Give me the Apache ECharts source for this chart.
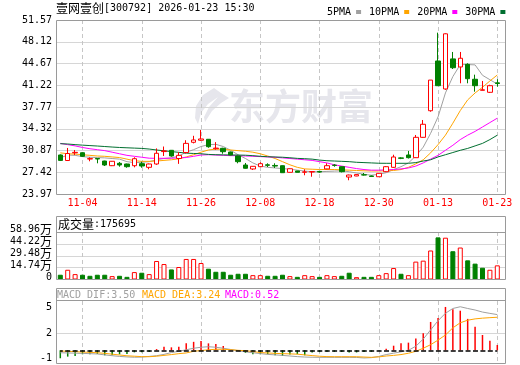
<!DOCTYPE html>
<html><head><meta charset="utf-8">
<script src="https://cdn.jsdelivr.net/npm/echarts@6/dist/echarts.min.js"></script>
<style>html,body{margin:0;padding:0;background:#fff}#c{width:520px;height:365px}</style>
</head><body><div id="c"></div>
<script>
const dates = ['10-30','10-31','11-03','11-04','11-05','11-06','11-07','11-10','11-11','11-12','11-13','11-14','11-17','11-18','11-19','11-20','11-21','11-24','11-25','11-26','11-27','11-28','12-01','12-02','12-03','12-04','12-05','12-08','12-09','12-10','12-11','12-12','12-15','12-16','12-17','12-18','12-19','12-22','12-23','12-24','12-25','12-26','12-29','12-30','12-31','01-05','01-06','01-07','01-08','01-09','01-12','01-13','01-14','01-15','01-16','01-19','01-20','01-21','01-22','01-23'];
const openP  = [30.16,29.28,30.50,30.52,29.52,29.60,29.20,28.46,28.84,28.73,28.46,28.78,28.20,28.73,30.70,30.90,29.60,30.55,32.17,32.50,32.65,31.15,31.22,30.63,30.00,28.57,27.94,28.30,28.60,28.50,28.46,27.41,27.62,27.42,27.46,27.55,27.95,28.55,28.30,26.66,26.83,27.02,26.83,26.71,27.51,28.20,29.70,30.16,29.73,32.96,37.18,45.07,40.63,45.40,44.12,44.54,42.17,40.42,40.10,41.60];
const closeP = [29.30,30.39,30.58,29.95,29.58,29.52,28.57,29.16,28.57,28.30,29.57,28.41,28.73,30.43,30.80,30.00,30.10,32.00,32.54,32.70,31.47,31.25,30.68,30.16,29.10,28.05,28.36,28.78,28.52,28.40,27.35,27.98,27.41,27.48,27.52,27.45,28.46,28.50,27.51,26.98,27.05,26.98,26.75,27.25,28.30,29.84,29.63,29.73,32.96,35.03,42.04,41.15,49.38,44.00,45.50,42.26,41.15,40.50,41.15,41.50];
const lowP   = [29.20,29.20,30.16,29.85,29.16,28.84,28.41,28.40,28.30,28.14,28.20,28.14,27.89,28.60,30.00,29.89,28.75,30.40,32.00,32.40,31.31,31.00,30.36,30.10,28.84,28.00,27.78,28.25,28.25,28.10,27.30,27.40,27.40,26.94,26.71,27.35,27.90,28.30,27.40,26.15,26.80,26.90,26.70,26.70,27.45,28.10,29.50,29.60,29.70,32.90,37.02,41.10,40.50,43.80,41.53,41.53,40.20,40.40,40.00,41.00];
const highP  = [30.25,31.27,30.95,30.60,29.79,29.68,29.25,29.20,29.05,28.78,29.79,29.10,28.80,31.20,31.50,30.95,30.60,32.50,33.20,34.12,32.69,32.20,31.30,30.70,30.05,28.89,28.40,29.00,28.84,28.84,28.50,28.00,27.65,27.89,27.60,27.60,28.84,28.70,28.35,27.05,27.10,27.30,26.90,27.30,28.40,30.20,29.80,30.80,33.33,35.71,42.04,49.56,49.46,46.50,46.50,44.70,42.90,41.90,41.30,42.17];
const ma5  = [29.7,30.15,30.1,29.9,29.8,29.75,29.7,29.6,29.5,29.1,28.95,29.0,29.1,29.4,29.6,29.7,30.0,30.6,31.0,31.5,31.8,31.85,31.5,30.9,30.2,29.6,28.9,28.4,28.2,28.1,28.0,27.9,27.75,27.6,27.5,27.5,27.55,27.6,27.65,27.5,27.3,27.1,26.95,27.1,27.35,27.85,28.3,28.9,30.0,31.4,33.6,36.2,40.0,42.6,44.5,44.5,44.45,42.8,42.1,41.4];
const ma10 = [30.5,30.35,30.3,30.2,30.1,30.0,29.95,29.85,29.75,29.5,29.25,29.15,29.15,29.2,29.3,29.4,29.55,29.85,30.2,30.6,30.95,31.1,31.05,30.95,30.85,30.75,30.6,30.35,30.0,29.6,29.1,28.6,28.2,27.95,27.9,27.85,27.85,27.85,27.8,27.75,27.7,27.65,27.62,27.62,27.65,27.7,27.85,28.2,28.75,29.4,30.5,31.8,33.3,35.2,37.2,38.9,40.0,40.9,41.9,42.85];
const ma20 = [32.0,31.8,31.6,31.35,31.15,31.0,30.85,30.6,30.35,30.1,29.95,29.8,29.65,29.63,29.63,29.65,29.7,29.75,29.95,30.15,30.2,30.15,30.1,30.05,30.05,30.0,29.95,29.9,29.85,29.8,29.7,29.6,29.5,29.4,29.3,29.1,28.9,28.6,28.4,28.2,28.0,27.85,27.75,27.75,27.8,27.85,27.95,28.1,28.4,28.9,29.5,30.1,30.9,31.7,32.6,33.3,33.9,34.6,35.3,36.0];
const ma30 = [31.95,31.9,31.8,31.72,31.65,31.58,31.5,31.42,31.35,31.3,31.25,31.2,31.1,30.95,30.82,30.7,30.58,30.45,30.4,30.35,30.25,30.2,30.18,30.16,30.15,30.12,30.05,29.95,29.88,29.84,29.8,29.72,29.62,29.57,29.5,29.35,29.25,29.2,29.15,29.1,29.0,28.95,28.9,28.85,28.84,28.84,28.84,28.84,28.95,29.2,29.4,29.85,30.2,30.55,30.9,31.2,31.6,32.0,32.6,33.3];
// volume in 万 (10k)
const volume = [5.9,12.1,6.7,5.9,4.6,5.9,5.9,4.2,4.6,3.3,9.2,8.4,6.7,23.0,19.2,12.5,15.5,25.5,25.5,20.5,13.4,9.6,9.6,5.9,7.1,7.1,5.4,5.4,4.6,4.6,5.9,4.2,3.3,5.4,4.2,3.3,5.4,4.2,4.6,8.4,2.9,3.3,3.3,5.4,7.9,14.2,7.1,5.4,22.2,23.4,36.0,52.3,51.9,35.1,39.7,23.8,19.7,14.6,12.1,17.5695];
const dif = [-0.24,-0.26,-0.28,-0.3,-0.33,-0.36,-0.45,-0.53,-0.6,-0.65,-0.68,-0.67,-0.6,-0.53,-0.4,-0.22,-0.1,0.05,0.2,0.3,0.35,0.3,0.2,0.08,-0.04,-0.15,-0.24,-0.32,-0.4,-0.45,-0.5,-0.56,-0.62,-0.66,-0.68,-0.69,-0.69,-0.69,-0.69,-0.69,-0.7,-0.75,-0.72,-0.6,-0.42,-0.28,-0.15,0.0,0.4,1.1,2.0,2.9,3.63,4.1,4.27,4.1,3.95,3.75,3.62,3.50];
const dea = [-0.07,-0.1,-0.13,-0.17,-0.2,-0.24,-0.3,-0.38,-0.46,-0.54,-0.58,-0.62,-0.63,-0.58,-0.5,-0.42,-0.33,-0.26,-0.1,-0.02,0.05,0.1,0.1,0.06,0.0,-0.04,-0.12,-0.22,-0.26,-0.3,-0.33,-0.35,-0.38,-0.45,-0.52,-0.58,-0.62,-0.63,-0.63,-0.63,-0.63,-0.66,-0.69,-0.65,-0.56,-0.5,-0.42,-0.29,-0.1,0.2,0.55,1.0,1.5,2.2,2.7,2.95,3.08,3.15,3.2,3.24];
const macdHist = [-0.78,-0.62,-0.56,-0.39,-0.39,-0.36,-0.49,-0.49,-0.40,-0.36,-0.20,-0.20,-0.17,0.12,0.35,0.29,0.35,0.68,0.83,0.92,0.68,0.62,0.42,0.08,-0.08,-0.25,-0.38,-0.39,-0.39,-0.49,-0.56,-0.42,-0.38,-0.49,-0.21,-0.18,-0.15,-0.15,-0.17,-0.21,-0.21,-0.17,-0.15,-0.03,0.15,0.45,0.68,0.75,1.15,1.67,2.78,3.17,4.25,4.02,3.88,3.08,2.32,1.50,0.93,0.52];
const priceTicks = ['23.97','27.42','30.87','34.32','37.77','41.22','44.67','48.12','51.57'];
const volTicks = ['0','14.74','29.48','44.22','58.96'];
const macdTicks = ['-1','2','5'];
const maNames = ['5PMA','10PMA','20PMA','30PMA'];
const stockName = '壹网壹创';
const stockTitle = '[300792] 2026-01-23 15:30';

const MONO = '"DejaVu Sans Mono", monospace';
const CJK = '"Noto Sans CJK SC", sans-serif';
const RED = '#ff0000', GREEN = '#008000';
const maColors = ['#a0a0a0','#ffa500','#ff00ff','#006f30'];
const FRAME = '#9a9a9a', GRIDC = '#d6d6d6', DASHC = '#c6c6c6';
const isLbl = i => i % 8 === 3;

const chart = echarts.init(document.getElementById('c'), null, {width:520, height:365});

const candles = dates.map((d,i)=>[openP[i], closeP[i], lowP[i], highP[i]]);
const volItems = volume.map((v,i)=>{
  const prev = i > 0 ? closeP[i-1] : openP[0];
  const up = closeP[i] >= prev;
  return {value:v, itemStyle: up ? {color:'#fff', borderColor:RED, borderWidth:1} : {color:GREEN, borderColor:GREEN, borderWidth:1}};
});
const macdItems = macdHist.map(v=>({value:v, itemStyle:{color: v >= 0 ? RED : GREEN}}));
const fmt2 = v => v.toFixed(2);

function catAxis(gi, showLabel){
  return {gridIndex:gi, type:'category', data:dates, boundaryGap:false,
    axisLine:{show:false}, axisTick:{show:false},
    axisLabel:{show:showLabel, interval:(i)=>isLbl(i), hideOverlap:false, color:RED, fontFamily:MONO, fontSize:10, margin:4},
    splitLine:{show:true, interval:(i)=>isLbl(i), lineStyle:{color:DASHC, type:[4,3], width:1}}};
}
function hidX(gi){ return {gridIndex:gi, type:'value', min:0, max:1, show:false}; }

const option = {
  animation:false,
  textStyle:{fontFamily:MONO},
  legend:{data:maNames, left:322, top:2, align:'right', icon:'rect', itemWidth:5, itemHeight:4, itemGap:8,
    selectedMode:false, textStyle:{fontFamily:MONO, fontSize:10, color:'#000'}},
  grid:[
    {left:56, top:20, width:449, height:174},
    {left:60.3, top:20, width:437, height:174},
    {left:56, top:232, width:449, height:47.5},
    {left:60.3, top:232, width:437, height:47.5},
    {left:56, top:307.7, width:449, height:51.1},
    {left:60.3, top:301, width:437, height:62.5}
  ],
  xAxis:[hidX(0), catAxis(1,true), hidX(2), catAxis(3,false), hidX(4), catAxis(5,false)],
  yAxis:[
    {gridIndex:0, type:'value', min:0, max:8, interval:1, axisLine:{show:false}, axisTick:{show:false},
     axisLabel:{formatter:v=>priceTicks[Math.round(v)], margin:4, color:'#000', fontFamily:MONO, fontSize:10},
     splitLine:{show:true, showMinLine:false, showMaxLine:false, lineStyle:{color:GRIDC}}},
    {gridIndex:1, type:'value', min:23.97, max:51.57, show:false},
    {gridIndex:2, type:'value', min:0, max:4, interval:1, axisLine:{show:false}, axisTick:{show:false},
     axisLabel:{formatter:v=>{const k=Math.round(v); return k===0 ? '{n|0}' : '{n|'+volTicks[k]+'}{w|万}';},
       margin:4, color:'#000', padding:[0,0,5,0],
       rich:{n:{fontFamily:MONO, fontSize:10, color:'#000'}, w:{fontFamily:CJK, fontSize:12, color:'#000'}}},
     splitLine:{show:true, showMinLine:false, showMaxLine:false, lineStyle:{color:GRIDC}}},
    {gridIndex:3, type:'value', min:0, max:58.96, show:false},
    {gridIndex:4, type:'value', min:0, max:2, interval:1, axisLine:{show:false}, axisTick:{show:false},
     axisLabel:{formatter:v=>macdTicks[Math.round(v)], margin:4, color:'#000', fontFamily:MONO, fontSize:10},
     splitLine:{show:true, showMinLine:false, showMaxLine:false, lineStyle:{color:GRIDC}}},
    {gridIndex:5, type:'value', min:-1.294, max:4.833, show:false}
  ],
  series:[
    {type:'candlestick', name:'K', xAxisIndex:1, yAxisIndex:1, data:candles, barWidth:5, clip:false, z:5,
     itemStyle:{color:'#fff', color0:GREEN, borderColor:RED, borderColor0:GREEN, borderWidth:1}},
    ...[ma5,ma10,ma20,ma30].map((arr,k)=>({type:'line', name:maNames[k], xAxisIndex:1, yAxisIndex:1, data:arr,
       symbol:'none', z:4, color:maColors[k], lineStyle:{width:1, color:maColors[k]}, itemStyle:{color:maColors[k]}})),
    {type:'bar', name:'VOL', xAxisIndex:3, yAxisIndex:3, data:volItems, barWidth:5, clip:false, z:5},
    {type:'bar', name:'MACD', xAxisIndex:5, yAxisIndex:5, data:macdItems, barWidth:1.5, clip:false, z:4,
     markLine:{silent:true, symbol:'none', label:{show:false}, z:6,
       lineStyle:{color:'#000', width:1.5, type:[5,2.414], dashOffset:2.5}, data:[{yAxis:0}]}},
    {type:'line', name:'DIF', xAxisIndex:5, yAxisIndex:5, data:dif, symbol:'none', z:5, lineStyle:{width:1, color:'#a0a0a0'}},
    {type:'line', name:'DEA', xAxisIndex:5, yAxisIndex:5, data:dea, symbol:'none', z:5, lineStyle:{width:1, color:'#ffa500'}}
  ],
  graphic:[
    {type:'polygon', z:-1, shape:{points:[[214,88],[203,95],[196,106],[195,118],[198,124],[201,113],[208,104],[218,97],[209,107],[204,117],[205,122],[212,111],[221,103],[229,98],[221,93]]}, style:{fill:'#e6e6ec'}},
    {type:'text', z:-1, x:229, y:106, style:{text:'东方财富', font:'bold 36px "Noto Sans CJK SC"', fill:'#e6e6ec', verticalAlign:'middle'}},
    {type:'text', x:56, y:8, style:{text:'{a|'+stockName+'}{b|'+stockTitle+'}', verticalAlign:'middle',
      rich:{a:{fontFamily:CJK, fontSize:12, fill:'#000', color:'#000'}, b:{fontFamily:MONO, fontSize:10, fill:'#000', color:'#000'}}}},
    {type:'rect', z:50, shape:{x:56.5, y:20.5, width:449, height:174}, style:{fill:'none', stroke:FRAME, lineWidth:1}},
    {type:'rect', z:50, shape:{x:56.5, y:216.5, width:449, height:63}, style:{fill:'none', stroke:FRAME, lineWidth:1}},
    {type:'line', z:50, shape:{x1:56.5, y1:232.5, x2:505.5, y2:232.5}, style:{stroke:FRAME, lineWidth:1}},
    {type:'rect', z:50, shape:{x:56.5, y:288.5, width:449, height:75}, style:{fill:'none', stroke:FRAME, lineWidth:1}},
    {type:'line', z:50, shape:{x1:56.5, y1:300.5, x2:505.5, y2:300.5}, style:{stroke:FRAME, lineWidth:1}},
    {type:'text', x:58, y:224.5, style:{text:'{a|成交量}{b|:'+Math.round(volume[volume.length-1]*10000)+'}', verticalAlign:'middle',
      rich:{a:{fontFamily:CJK, fontSize:12, fill:'#000', color:'#000'}, b:{fontFamily:MONO, fontSize:10, fill:'#000', color:'#000'}}}},
    {type:'text', x:57, y:295, style:{text:'MACD_DIF:'+fmt2(dif[dif.length-1]), font:'10px "DejaVu Sans Mono"', fill:'#a0a0a0', verticalAlign:'middle'}},
    {type:'text', x:142, y:295, style:{text:'MACD_DEA:'+fmt2(dea[dea.length-1]), font:'10px "DejaVu Sans Mono"', fill:'#ffa500', verticalAlign:'middle'}},
    {type:'text', x:225, y:295, style:{text:'MACD:'+fmt2(macdHist[macdHist.length-1]), font:'10px "DejaVu Sans Mono"', fill:'#ff00ff', verticalAlign:'middle'}}
  ]
};
chart.setOption(option);
</script></body></html>
